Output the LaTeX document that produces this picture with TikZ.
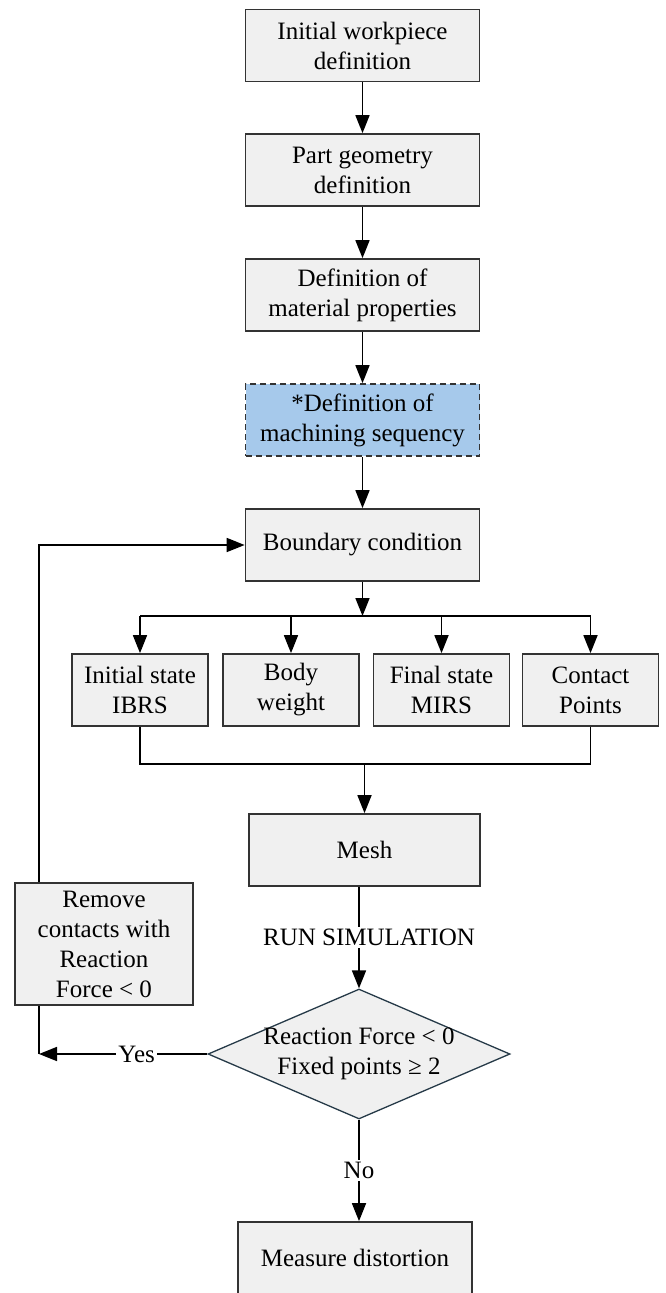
\documentclass[tikz,border=0pt]{standalone}
\usepackage{fontspec}
\setmainfont{Liberation Serif}
\usetikzlibrary{shapes.geometric,arrows.meta}
\definecolor{boxgray}{RGB}{240,240,240}
\definecolor{seqblue}{RGB}{166,201,235}
\definecolor{diaedge}{RGB}{38,58,72}

\begin{document}
\begin{tikzpicture}[
		x=1pt, y=-1pt,
		font=\fontsize{25}{30}\selectfont,
		every node/.style={align=center, inner sep=0pt},
		stage/.style={draw=black!80, line width=1.7pt, fill=boxgray, minimum width=234pt, minimum height=72pt},
		input/.style={stage, minimum width=136pt},
		decision/.style={diamond, draw=diaedge, line width=1.3pt, fill=boxgray, minimum width=302pt, minimum height=130pt},
		flow/.style={line width=1.7pt, -{Triangle[length=18pt,width=14pt]}},
		link/.style={line width=1.7pt},
		tag/.style={fill=white, inner sep=2pt}
		]
		\useasboundingbox (0,0) rectangle (665,1293);
		
		% main column
		\node[stage] (init) at (362.5,45.5) {Initial workpiece\\definition};
		\node[stage] (geom) at (362.5,170) {Part geometry\\definition};
		\node[stage] (mat) at (362.5,295) {Definition of\\material properties};
		\node[stage, fill=seqblue, dash pattern=on 6pt off 4pt] (seq) at (362.5,420) {*Definition of\\machining sequency};
		\node[stage] (bound) at (362.5,545) {Boundary condition};
		
		% inputs of the model
		\node[input] (ibrs) at (140,690) {Initial state\\IBRS};
		\node[input] (weight) at (291,690) {Body\\weight};
		\node[input] (mirs) at (441.5,690) {Final state\\MIRS};
		\node[input] (contact) at (590.5,690) {Contact\\Points};
		
		\node[stage, minimum width=231pt] (mesh) at (364.5,850) {Mesh};
		\node[decision, label={[align=center]center:Reaction Force < 0\\Fixed points ≥ 2}] (check) at (359,1054) {};
		\node[stage, minimum width=178pt, minimum height=122pt] (remove) at (104,944) {Remove\\contacts with\\Reaction\\Force < 0};
		\node[stage] (measure) at (355,1258) {Measure distortion};
		
		\coordinate (split) at (362.5,616);
		\coordinate (merge) at (364.5,764);
		\coordinate (loop) at (39,1054);
		
		\draw[flow] (init) -- (geom);
		\draw[flow] (geom) -- (mat);
		\draw[flow] (mat) -- (seq);
		\draw[flow] (seq) -- (bound);
		\draw[flow] (bound) -- (split);
		\draw[link] (ibrs |- split) -- (contact |- split);
		\foreach \n in {ibrs,weight,mirs,contact}
			\draw[flow] (\n |- split) -- (\n);
		\draw[link] (ibrs) -- (ibrs |- merge) -- (contact |- merge) -- (contact);
		\draw[flow] (merge) -- (mesh);
		\draw[flow] (mesh.south -| check) -- node[tag, xshift=10pt] {RUN SIMULATION} (check.north);
		\draw[flow] (check.south) -- node[tag] {No} (check.south |- measure.north);
		\draw[flow] (check.west) -- node[tag, pos=0.42] {Yes} (loop);
		\draw[link] (loop) -- (loop |- remove.south);
		\draw[flow] (loop |- remove.north) -- (loop |- bound) -- (bound);
	\end{tikzpicture}
\end{document}
